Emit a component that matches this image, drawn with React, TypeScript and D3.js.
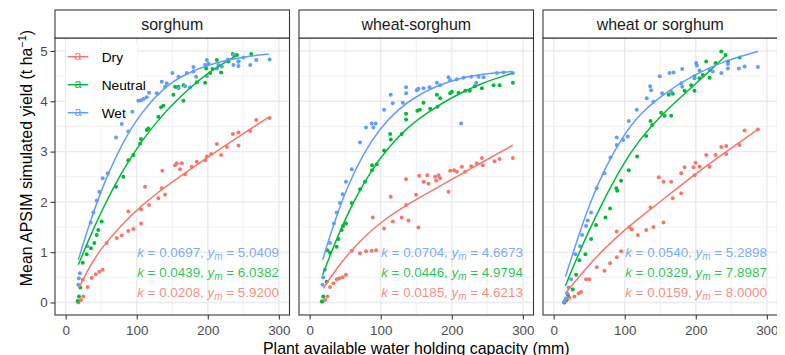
import React, { useRef, useEffect } from 'react';
import * as d3 from 'd3';

type Pt = [number, number];

const panels = ['sorghum', 'wheat-sorghum', 'wheat or sorghum'];
const seasons = ['Dry', 'Neutral', 'Wet'];
const colors = ['#F8766D', '#00BA38', '#619CFF'];
const xTicks = [0, 100, 200, 300];
const xMinor = [50, 150, 250];
const yTicks = [0, 1, 2, 3, 4, 5];
const yMinor = [0.5, 1.5, 2.5, 3.5, 4.5];

// sorghum
const sorghumDry: Pt[] = [
  [17.8, 0.0], [21.6, 0.05], [24.8, 0.12], [24.0, 0.45], [31.0, 0.31], [36.6, 0.49], [42.3, 0.56],
  [47.4, 0.61], [52.1, 0.65], [57.8, 1.18], [71.9, 1.28], [78.9, 1.33], [88.2, 1.42], [95.3, 1.46],
  [106.1, 1.57], [88.2, 1.81], [106.1, 1.85], [111.7, 2.3], [117.4, 1.94], [130.5, 2.07], [135.2, 2.27],
  [136.1, 2.62], [139.9, 2.14], [154, 2.73], [156.4, 2.77], [161, 2.65], [163.4, 2.77], [168.1, 2.55],
  [177.5, 2.7], [184.6, 2.8], [196.3, 2.83], [198.7, 2.9], [204.7, 2.95], [212.8, 3.15], [218.8, 2.93],
  [226.9, 3.09], [235.3, 3.35], [243.2, 3.38], [243.2, 3.12], [259.7, 3.41], [268.2, 3.63], [286.9, 3.67],
];
const sorghumNeutral: Pt[] = [
  [16.9, 0.03], [18.7, 0.12], [20.5, 0.3], [24.0, 0.79], [29.6, 0.96], [35.6, 1.08], [40.3, 1.18],
  [43.7, 1.34], [45.9, 1.44], [50.7, 1.61], [70.9, 2.3], [81.2, 2.5], [88.2, 2.83], [95.3, 2.93],
  [104.7, 3.16], [106, 3.25], [114.1, 3.43], [116.4, 3.46], [130.5, 3.69], [134.3, 3.88], [137.5, 3.91],
  [151.6, 4.13], [154, 4.29], [158.7, 4.29], [165.7, 4.01], [166.1, 4.32], [184.6, 4.38], [196.3, 4.37],
  [197.7, 4.65], [203.3, 4.56], [206.6, 4.64], [212.8, 4.82], [218.8, 4.57], [229.1, 4.79], [235.3, 4.94],
  [240.9, 4.92], [243.2, 4.79], [261.1, 4.94],
];
const sorghumWet: Pt[] = [
  [17.8, 0.35], [18.5, 0.48], [20.1, 0.58], [30.5, 1.12], [35.2, 1.59], [38.9, 1.79], [43.7, 2.02],
  [47.4, 2.2], [52.1, 2.47], [59.2, 2.57], [70.9, 3.28], [78.9, 3.55], [88.2, 3.4], [93.8, 3.79],
  [102.3, 4.01], [106, 4.02], [110, 4.05], [114, 4.08], [117.4, 4.17], [128.2, 4.16], [135.2, 4.39],
  [139.9, 4.29], [142.3, 4.36], [150.2, 4.56], [158.7, 4.49], [158.7, 4.26], [168.1, 4.3], [170.5, 4.56],
  [175.1, 4.28], [179.8, 4.68], [179.8, 4.59], [183.6, 4.49], [196.3, 4.72], [198.7, 4.82], [198.7, 4.5],
  [201, 4.75], [212.8, 4.65], [215, 4.72], [219.8, 4.69], [228.3, 4.83], [236.2, 4.92], [236.2, 4.72],
  [243.2, 4.7], [243.2, 4.79], [250.2, 4.87], [259.7, 4.72], [268.2, 4.82], [286.9, 4.83],
];
const sorghumDryFit: Pt[] = [
  [19, 0.3], [35, 0.75], [50.7, 1.09], [78.9, 1.55], [107, 1.93], [135.2, 2.25], [154, 2.43], [201, 2.9],
  [248, 3.34], [285.5, 3.68],
];
const sorghumNeutralFit: Pt[] = [
  [17.8, 0.75], [31.8, 1.23], [50.7, 1.83], [78.9, 2.6], [107, 3.22], [135.2, 3.71], [154, 3.99],
  [177.5, 4.3], [201, 4.57], [224.5, 4.78], [243.2, 4.93],
];
const sorghumWetFit: Pt[] = [
  [17.8, 0.85], [31.8, 1.49], [50.7, 2.27], [78.9, 3.16], [107, 3.8], [140, 4.29], [161, 4.49],
  [201, 4.74], [248, 4.88], [286, 4.94],
];

// wheat-sorghum
const wsDry: Pt[] = [
  [18.3, 0.02], [21.6, 0.05], [24.9, 0.12], [28.6, 0.31], [33.4, 0.38], [38, 0.46], [41.8, 0.48],
  [46.5, 0.5], [51.1, 0.55], [59.2, 1.03], [70.9, 0.98], [79.3, 1.02], [87.3, 1.03], [93.5, 1.04],
  [88.8, 1.69], [104.7, 1.47], [114.1, 2.1], [116.9, 1.61], [129.6, 1.69], [135.7, 2.45], [135.7, 1.94],
  [139, 1.63], [149.8, 2.14], [153.1, 1.49], [154, 2.52], [160.2, 2.4], [165.6, 2.53], [167.2, 2.36],
  [176.6, 2.5], [178, 2.42], [181.4, 2.53], [183.6, 2.47], [195.4, 2.2], [197.7, 2.62], [203.3, 2.63],
  [207.1, 2.6], [214.2, 2.7], [218.8, 2.6], [227.3, 2.71], [235.3, 2.77], [242.4, 2.87], [243.8, 2.73],
  [260.2, 2.81], [267.3, 2.85], [286, 2.87],
];
const wsNeutral: Pt[] = [
  [17, 0.02], [19, 0.12], [24.0, 0.41], [24.9, 1.04], [28.6, 0.99], [38, 1.11], [40.4, 1.26],
  [45.1, 1.44], [47, 1.52], [51.1, 1.57], [59.2, 1.98], [70.9, 2.25], [77.9, 2.4], [87.8, 2.73],
  [87.8, 2.63], [94.4, 2.75], [104.7, 3.02], [113.2, 3.35], [114.1, 3.24], [129.6, 3.35], [135.7, 3.75],
  [135.7, 3.64], [151.6, 3.81], [155, 3.83], [160.2, 3.97], [169.6, 3.85], [179, 4.13], [180, 3.89],
  [183.6, 4.06], [197.7, 4.16], [200.1, 4.19], [209.5, 4.17], [218.8, 4.21], [225.4, 4.21], [232.5, 4.3],
  [242.4, 4.26], [258.8, 4.32], [267.3, 4.32], [286, 4.37],
];
const wsWet: Pt[] = [
  [18, 0.35], [19, 0.5], [21.6, 0.65], [28.6, 1.18], [34.2, 1.57], [38, 1.79], [42.7, 1.98],
  [46.5, 2.15], [51.1, 2.4], [59.2, 2.65], [70.9, 3.18], [79.3, 3.48], [87.3, 3.56], [89.7, 3.48],
  [92.9, 3.56], [104.7, 3.83], [114.1, 4.13], [116.9, 3.96], [131, 3.97], [135.7, 4.28], [135.7, 4.16],
  [150.8, 4.22], [153.1, 4.25], [160.2, 4.26], [168.7, 4.28], [179, 4.37], [183.6, 4.32], [195.4, 4.48],
  [197.7, 4.42], [207.1, 4.44], [213.2, 3.56], [216.5, 4.47], [227.3, 4.49], [234.4, 4.37], [237.7, 4.49],
  [244.7, 4.48], [263.5, 4.56], [272.9, 4.57], [286, 4.56],
];
const wsDryFit: Pt[] = [
  [19.3, 0.28], [42.7, 0.78], [75.7, 1.3], [103.3, 1.63], [132, 1.9], [157.8, 2.11], [197.7, 2.43],
  [244.7, 2.8], [286, 3.13],
];
const wsNeutralFit: Pt[] = [
  [18.3, 0.55], [33.4, 1.11], [56.8, 1.88], [85, 2.6], [113.2, 3.13], [141.4, 3.52], [157.8, 3.7],
  [197.7, 4.07], [244.7, 4.38], [286, 4.56],
];
const wsWetFit: Pt[] = [
  [18.3, 0.85], [33.4, 1.54], [52.1, 2.28], [75.7, 2.97], [99, 3.46], [122.6, 3.82], [150.8, 4.12],
  [197.7, 4.42], [244.7, 4.55], [284.6, 4.59],
];

// wheat or sorghum
const wosDry: Pt[] = [
  [15, 0.0], [17, 0.03], [19, 0.06], [22, 0.1], [29.2, 0.12], [35.2, 0.18], [38.6, 0.21], [45.6, 0.46],
  [50.3, 0.46], [60.6, 0.7], [71.4, 0.63], [79.4, 0.78], [88.8, 0.9], [94.9, 1.02], [88.8, 1.41],
  [106.7, 1.5], [110, 1.45], [118.4, 1.34], [130.2, 1.44], [140.4, 1.5], [136.3, 1.89], [147.9, 2.49],
  [154.6, 2.4], [154.6, 1.59], [165.4, 2.4], [167.7, 2.07], [179.5, 2.17], [179.5, 2.57], [184.2, 2.69],
  [196.8, 2.69], [198.2, 2.53], [199.7, 2.78], [205.3, 2.7], [214.7, 2.93], [219.4, 2.7], [227.8, 2.93],
  [235.9, 3.09], [242.9, 3.11], [242.9, 2.95], [261.7, 3.13], [268.7, 3.42], [287.4, 3.44],
];
const wosNeutral: Pt[] = [
  [15, 0.0], [17, 0.05], [20, 0.15], [26.8, 0.26], [31.6, 0.55], [36.2, 0.84], [44.7, 0.96], [52.7, 1.26],
  [59.7, 1.54], [72.9, 1.69], [79.4, 1.87], [88.3, 2.27], [89.5, 2.22], [94.9, 2.42], [105.7, 2.63],
  [117.5, 2.9], [130.2, 3.31], [136.3, 3.61], [138.6, 3.53], [151.3, 3.77], [156, 3.71], [162, 4.13],
  [165.4, 3.71], [167.7, 4.15], [184.2, 4.21], [193.6, 4.32], [198.2, 4.21], [198.2, 4.5], [205.3, 4.46],
  [209.9, 4.52], [214.7, 4.79], [219.4, 4.47], [227.8, 4.76], [235.9, 4.99], [241.9, 4.92], [245.2, 4.79],
  [261.7, 4.87],
];
const wosWet: Pt[] = [
  [15, 0.02], [17, 0.08], [19, 0.18], [21, 0.3], [24.5, 0.46], [30.6, 0.96], [37.2, 1.12], [40, 1.34],
  [45.6, 1.52], [47.9, 1.63], [52.7, 1.79], [60.6, 2.27], [71.4, 2.57], [79.9, 2.88], [88.8, 3.28],
  [88.8, 3.13], [97.8, 3.23], [104.3, 3.3], [105.7, 3.61], [116.9, 3.83], [131, 4.06], [135.8, 4.3],
  [137.2, 4.22], [140.4, 3.99], [149.4, 4.5], [152.7, 4.16], [163, 4.56], [165.4, 4.19], [168.7, 4.57],
  [179.5, 4.36], [181, 4.29], [180.9, 4.64], [198.2, 4.46], [200.6, 4.76], [201.5, 4.71], [205.3, 4.61],
  [219.4, 4.62], [224, 4.59], [235.9, 4.56], [245.2, 4.65], [245.2, 4.74], [260.7, 4.65], [268.7, 4.69],
  [287.4, 4.68],
];
const wosDryFit: Pt[] = [
  [16.5, 0.18], [50.3, 0.76], [73.8, 1.1], [97.2, 1.41], [120.7, 1.68], [148.9, 1.99], [195.9, 2.52],
  [242.9, 3.0], [287.4, 3.44],
];
const wosNeutralFit: Pt[] = [
  [16.5, 0.33], [31.6, 0.85], [50.3, 1.45], [73.8, 2.13], [97.2, 2.74], [120.7, 3.24], [150, 3.7],
  [172.5, 4.0], [195.9, 4.3], [219.4, 4.6], [242.9, 4.92],
];
const wosWetFit: Pt[] = [
  [16.5, 0.51], [31.6, 1.18], [50.3, 1.96], [73.8, 2.72], [97.2, 3.3], [120.7, 3.74], [152, 4.12],
  [195.9, 4.52], [242.9, 4.82], [287.4, 4.99],
];

// fitted parameters, Dry / Neutral / Wet
const sorghumK = ['0.0208', '0.0439', '0.0697'];
const sorghumYm = ['5.9200', '6.0382', '5.0409'];
const wsK = ['0.0185', '0.0446', '0.0704'];
const wsYm = ['4.6213', '4.9794', '4.6673'];
const wosK = ['0.0159', '0.0329', '0.0540'];
const wosYm = ['8.0000', '7.8987', '5.2898'];

const points = [
  [sorghumDry, sorghumNeutral, sorghumWet],
  [wsDry, wsNeutral, wsWet],
  [wosDry, wosNeutral, wosWet],
];
const fits = [
  [sorghumDryFit, sorghumNeutralFit, sorghumWetFit],
  [wsDryFit, wsNeutralFit, wsWetFit],
  [wosDryFit, wosNeutralFit, wosWetFit],
];
const kVals = [sorghumK, wsK, wosK];
const ymVals = [sorghumYm, wsYm, wosYm];

const FONT = '"Liberation Sans", Arial, Helvetica, sans-serif';
const width = 785;
const height = 355;
const panelW = 234.5;
const panelLeft = [55, 299, 543];
const stripTop = 10;
const panelTop = 38;
const panelBottom = 315;

const App = () => {
  const svgRef = useRef<SVGSVGElement>(null);

  useEffect(() => {
    const svg = d3.select(svgRef.current);
    svg.selectAll('*').remove();

    const y = d3.scaleLinear().domain([-0.249, 5.258]).range([panelBottom, panelTop]);

    panels.forEach((name, pi) => {
      const left = panelLeft[pi];
      const x = d3.scaleLinear().domain([-15, 315]).range([left, left + panelW]);
      const g = svg.append('g');

      // panel background + grid
      g.append('rect')
        .attr('x', left).attr('y', panelTop)
        .attr('width', panelW).attr('height', panelBottom - panelTop)
        .attr('fill', '#fff');

      g.selectAll('.xminor').data(xMinor).join('line')
        .attr('x1', d => x(d)).attr('x2', d => x(d))
        .attr('y1', panelTop).attr('y2', panelBottom)
        .attr('stroke', '#EBEBEB').attr('stroke-width', 0.7);
      g.selectAll('.yminor').data(yMinor).join('line')
        .attr('x1', left).attr('x2', left + panelW)
        .attr('y1', d => y(d)).attr('y2', d => y(d))
        .attr('stroke', '#EBEBEB').attr('stroke-width', 0.7);
      g.selectAll('.xmajor').data(xTicks).join('line')
        .attr('x1', d => x(d)).attr('x2', d => x(d))
        .attr('y1', panelTop).attr('y2', panelBottom)
        .attr('stroke', '#EBEBEB').attr('stroke-width', 1.4);
      g.selectAll('.ymajor').data(yTicks).join('line')
        .attr('x1', left).attr('x2', left + panelW)
        .attr('y1', d => y(d)).attr('y2', d => y(d))
        .attr('stroke', '#EBEBEB').attr('stroke-width', 1.4);

      // legend background sits under the data in the first panel
      if (pi === 0) {
        g.append('rect')
          .attr('x', left + 11).attr('y', 43)
          .attr('width', 71).attr('height', 82)
          .attr('fill', '#fff');
      }

      // points
      points[pi].forEach((pts, si) => {
        g.append('g').selectAll('circle').data(pts).join('circle')
          .attr('cx', d => x(d[0])).attr('cy', d => y(d[1]))
          .attr('r', 2).attr('fill', colors[si]);
      });

      // fitted curves
      const line = d3.line<Pt>().x(d => x(d[0])).y(d => y(d[1])).curve(d3.curveBasis);
      fits[pi].forEach((f, si) => {
        g.append('path').attr('d', line(f))
          .attr('fill', 'none').attr('stroke', colors[si]).attr('stroke-width', 1.5);
      });

      // annotations
      const labelY = [0.2, 0.6, 1.0];
      seasons.forEach((s, si) => {
        const t = g.append('text')
          .attr('x', x(300)).attr('y', y(labelY[si]))
          .attr('dy', '0.36em')
          .attr('text-anchor', 'end')
          .attr('font-family', FONT).attr('font-size', 13.4)
          .attr('fill', colors[si]).attr('fill-opacity', 0.85);
        t.append('tspan').attr('font-style', 'italic').text('k');
        t.append('tspan').text(` = ${kVals[pi][si]}, `);
        t.append('tspan').attr('font-style', 'italic').text('y');
        t.append('tspan').attr('font-style', 'italic').attr('font-size', 10).attr('dy', 3).text('m');
        t.append('tspan').attr('dy', -3).text(` = ${ymVals[pi][si]}`);
      });

      // panel border
      g.append('rect')
        .attr('x', left).attr('y', panelTop)
        .attr('width', panelW).attr('height', panelBottom - panelTop)
        .attr('fill', 'none').attr('stroke', '#333333').attr('stroke-width', 1.07);

      // strip
      g.append('rect')
        .attr('x', left).attr('y', stripTop)
        .attr('width', panelW).attr('height', panelTop - stripTop)
        .attr('fill', '#fff').attr('stroke', '#333333').attr('stroke-width', 1.07);
      g.append('text')
        .attr('x', left + panelW / 2).attr('y', (stripTop + panelTop) / 2)
        .attr('dy', '0.36em').attr('text-anchor', 'middle')
        .attr('font-family', FONT).attr('font-size', 15.9).attr('fill', '#1A1A1A')
        .text(name);

      // x axis
      const xa = g.append('g')
        .attr('transform', `translate(0,${panelBottom})`)
        .call(d3.axisBottom(x).tickValues(xTicks).tickSize(4.5).tickPadding(6));
      xa.select('.domain').remove();
      xa.selectAll('line').attr('stroke', '#333333').attr('stroke-width', 1.07);
      xa.selectAll('text').attr('font-family', FONT).attr('font-size', 13.4).attr('fill', '#4D4D4D');

      if (pi === 0) {
        const ya = g.append('g')
          .attr('transform', `translate(${left},0)`)
          .call(d3.axisLeft(y).tickValues(yTicks).tickFormat(d3.format('d')).tickSize(4.5).tickPadding(2.8));
        ya.select('.domain').remove();
        ya.selectAll('line').attr('stroke', '#333333').attr('stroke-width', 1.07);
        ya.selectAll('text').attr('font-family', FONT).attr('font-size', 13.4).attr('fill', '#4D4D4D');

        // legend
        seasons.forEach((s, si) => {
          const ry = 56.7 + si * 28;
          g.append('line')
            .attr('x1', left + 12.7).attr('x2', left + 33.3)
            .attr('y1', ry).attr('y2', ry)
            .attr('stroke', colors[si]).attr('stroke-width', 1.5);
          g.append('text')
            .attr('x', left + 23).attr('y', ry).attr('dy', '0.3em')
            .attr('text-anchor', 'middle')
            .attr('font-family', FONT).attr('font-size', 12.5)
            .attr('fill', colors[si])
            .text('a');
          g.append('text')
            .attr('x', left + 46.7).attr('y', ry).attr('dy', '0.36em')
            .attr('font-family', FONT).attr('font-size', 13.7).attr('fill', '#000')
            .text(s);
        });
      }
    });

    // axis titles
    svg.append('text')
      .attr('x', (panelLeft[0] + panelLeft[2] + panelW) / 2).attr('y', 353.5)
      .attr('text-anchor', 'middle')
      .attr('font-family', FONT).attr('font-size', 15.9).attr('fill', '#000')
      .text('Plant available water holding capacity (mm)');

    const yt = svg.append('text')
      .attr('transform', 'translate(32,158) rotate(-90)')
      .attr('text-anchor', 'middle')
      .attr('font-family', FONT).attr('font-size', 15.9).attr('fill', '#000');
    yt.append('tspan').text('Mean APSIM simulated yield (t ha');
    yt.append('tspan').attr('font-size', 11).attr('dy', -6).text('−1');
    yt.append('tspan').attr('dy', 6).text(')');
  }, []);

  return (
    <div style={{ width, height }}>
      <svg ref={svgRef} width={width} height={height} style={{ display: 'block', marginLeft: -8, marginTop: -8 }} />
    </div>
  );
};

export default App;
